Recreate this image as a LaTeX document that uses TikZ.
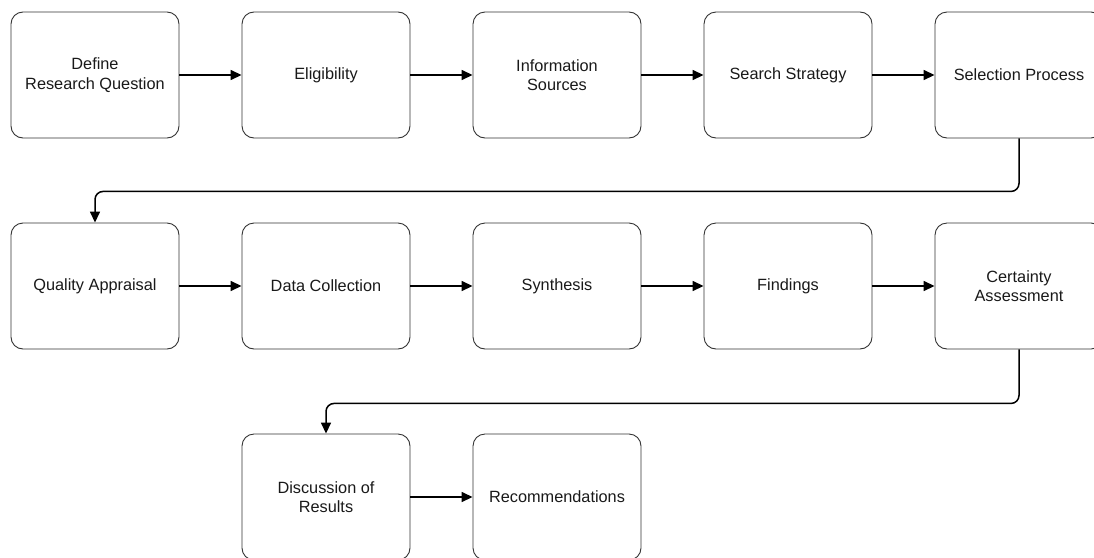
\documentclass[tikz,border=0pt]{standalone}
\usepackage{fontspec}
\setmainfont{Liberation Sans}
\usetikzlibrary{arrows.meta}
\begin{document}
\begin{tikzpicture}[x=1pt,y=-1pt,
  stepbox/.style={draw=black!80, line width=0.9pt, rounded corners=12pt,
    minimum width=168pt, minimum height=126pt, inner sep=0pt, align=center,
    text=black!90, font=\fontsize{16.3}{19.5}\selectfont},
  conn/.style={draw=black, line width=1.5pt, -{Triangle[length=11pt,width=10pt]}},
  wrapconn/.style={conn, rounded corners=8pt}]
\useasboundingbox (0,0) rectangle (1094,557);
% row 1
\node[stepbox] (a1) at (95,75) {Define\\Research Question};
\node[stepbox] (a2) at (326,75) {Eligibility};
\node[stepbox] (a3) at (557,75) {Information\\Sources};
\node[stepbox] (a4) at (788,75) {Search Strategy};
\node[stepbox] (a5) at (1019,75) {Selection Process};
% row 2
\node[stepbox] (b1) at (95,286) {Quality Appraisal};
\node[stepbox] (b2) at (326,286) {Data Collection};
\node[stepbox] (b3) at (557,286) {Synthesis};
\node[stepbox] (b4) at (788,286) {Findings};
\node[stepbox] (b5) at (1019,286) {Certainty\\Assessment};
% row 3
\node[stepbox] (c1) at (326,497) {Discussion of\\Results};
\node[stepbox] (c2) at (557,497) {Recommendations};
% connectors
\draw[conn] (a1) -- (a2);
\draw[conn] (a2) -- (a3);
\draw[conn] (a3) -- (a4);
\draw[conn] (a4) -- (a5);
\draw[wrapconn] (a5.south) -- ++(0,53) -| (b1.north);
\draw[conn] (b1) -- (b2);
\draw[conn] (b2) -- (b3);
\draw[conn] (b3) -- (b4);
\draw[conn] (b4) -- (b5);
\draw[wrapconn] (b5.south) -- ++(0,54) -| (c1.north);
\draw[conn] (c1) -- (c2);
\end{tikzpicture}
\end{document}
